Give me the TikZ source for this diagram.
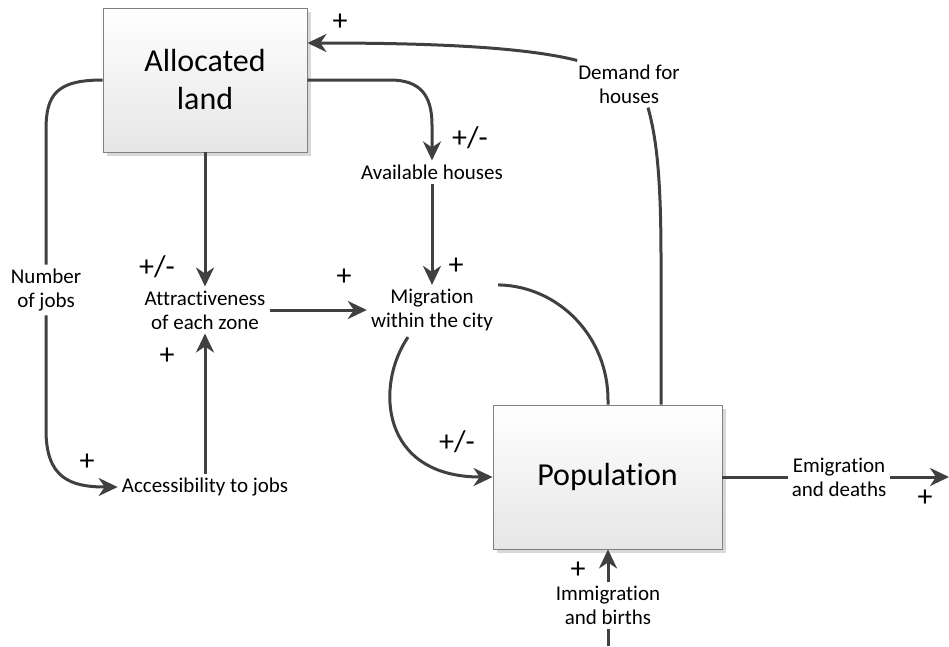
\documentclass[tikz,border=0pt]{standalone}
\usepackage{fontspec}
\setmainfont{Carlito}[Ligatures=NoCommon]
\usetikzlibrary{arrows.meta,calc,shadows}
\definecolor{lc}{HTML}{404040}
\definecolor{boxborder}{HTML}{808080}
\definecolor{boxbottom}{HTML}{E6E6E6}
\begin{document}
\begin{tikzpicture}[x=1pt,y=-1pt,
  bigbox/.style={draw=boxborder, line width=0.9pt, top color=white, bottom color=boxbottom,
    font=\fontsize{32}{38}\selectfont, align=center,
    drop shadow={shadow xshift=4pt, shadow yshift=-4pt, fill=black!30, opacity=0.5}},
  lbl/.style={font=\fontsize{21}{24}\selectfont, align=center, inner sep=4pt},
  sign/.style={font=\fontsize{30}{32}\selectfont, inner sep=0pt},
  arr/.style={draw=lc, line width=3pt, -{Stealth[length=19pt,width=18pt,inset=6pt]}},
  ln/.style={draw=lc, line width=3pt}]
\useasboundingbox (0,0) rectangle (949,646);

\node[bigbox, minimum width=204pt, minimum height=144pt] (land) at (205,80) {Allocated\\land};
\node[bigbox, minimum width=229pt, minimum height=144pt] (pop) at (607.5,477) {Population};

\node[lbl] (dem) at (629,84) {Demand for\\houses};
\node[lbl] (avail) at (432,172) {Available houses};
\node[lbl] (attr) at (205,310) {Attractiveness\\of each zone};
\node[lbl] (mig) at (432,310) {Migration\\within the city};
\node[lbl] (jobs) at (46,290) {Number\\of jobs};
\node[lbl] (acc) at (205,487) {Accessibility to jobs};
\node[lbl] (emig) at (839,477) {Emigration\\and deaths};
\node[lbl] (imm) at (608,605) {Immigration\\and births};
\coordinate (out) at (949,477);
\coordinate (inbot) at (608,646);

% connectors
\draw[arr] ($(dem.north west)+(3,0)$) .. controls (520,46) and (420,43) .. ($(land.east)+(0,-37)$);
\draw[ln] ($(pop.north)+(53.5,0)$) -- (661,260) .. controls (661,180) and (657,140) .. ($(dem.south)+(19,0)$);
\draw[arr] (land.east) -- (390,80) .. controls (420,80) and (432,95) .. (432,125) -- (avail.north);
\draw[arr] (avail.south) -- (mig.north);
\draw[arr] (land.south) -- (land.south |- attr.north);
\draw[arr] (attr.east) -- (mig.west);
\draw[arr] ($(mig.south)+(-24,2)$) .. controls (375,385) and (380,477) .. (pop.west);
\draw[ln] ($(pop.north)+(0.5,0)$) -- (608,400) .. controls (608,337) and (559,286) .. ($(mig.north east)+(1,0)$);
\draw[ln] (land.west) .. controls (56,80) and (46,95) .. (46,130) -- (jobs.north);
\draw[arr] (jobs.south) -- (46,430) .. controls (46,478) and (70,487) .. (acc.west);
\draw[arr] (acc.north) -- (acc.north |- attr.south);
\draw[ln] (pop.east) -- (emig.west);
\draw[arr] (emig.east) -- (out);
\draw[ln] (inbot) -- (imm.south);
\draw[arr] (imm.north) -- (imm.north |- pop.south);

% polarity signs
\node[sign] (s1) at (340,22) {+};
\node[sign] (s2) at (470,138) {+/-};
\node[sign] (s3) at (456,266) {+};
\node[sign] (s4) at (157,267) {+/-};
\node[sign] (s5) at (344,277) {+};
\node[sign] (s6) at (167,356) {+};
\node[sign] (s7) at (87,462) {+};
\node[sign] (s8) at (457,442) {+/-};
\node[sign] (s9) at (578,570) {+};
\node[sign] (s10) at (925,498) {+};
\end{tikzpicture}
\end{document}
